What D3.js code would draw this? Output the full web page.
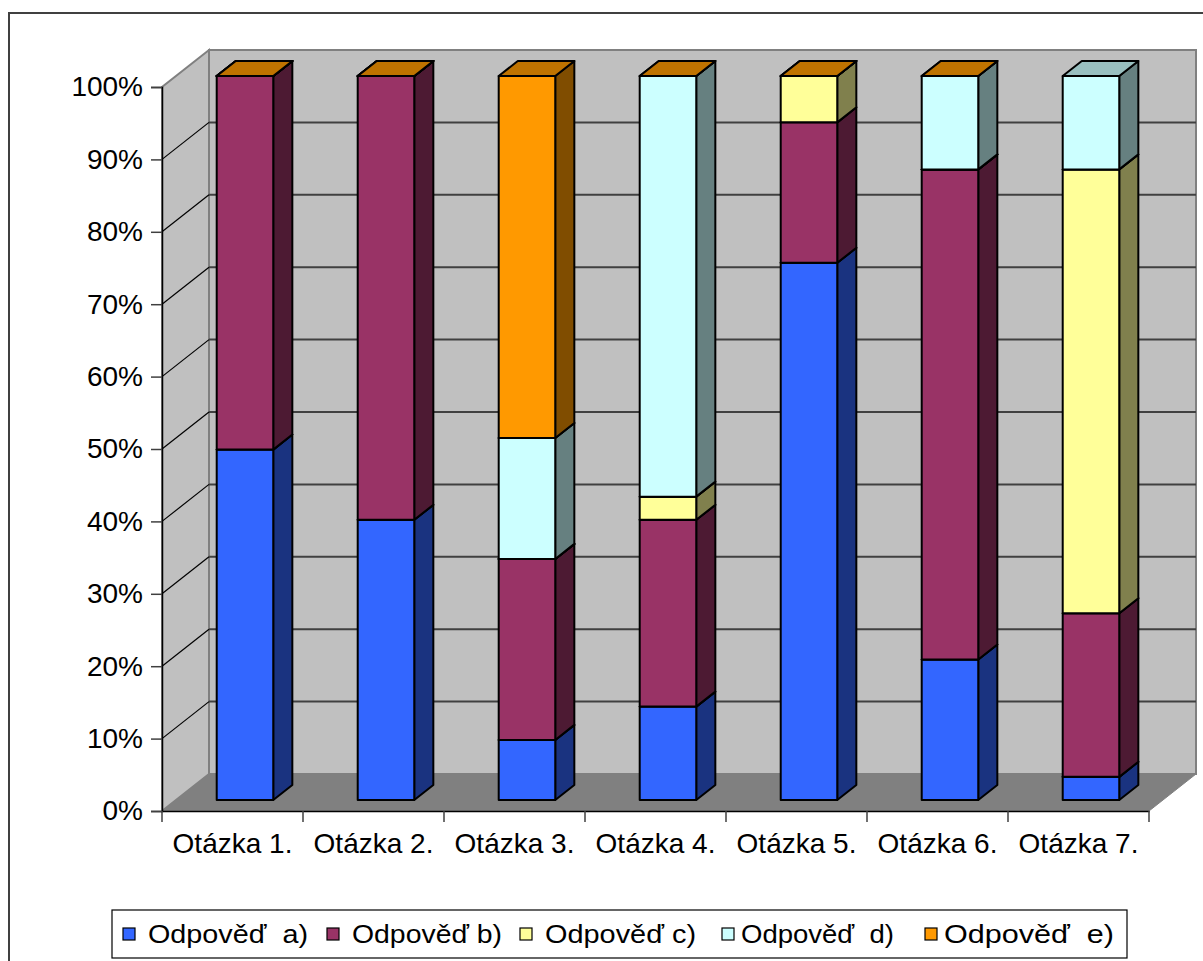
<!DOCTYPE html>
<html>
<head>
<meta charset="utf-8">
<script src="https://cdn.jsdelivr.net/npm/d3@7"></script>
<style>
  body { margin: 0; background: #fff; }
  text { font-family: "Liberation Sans", Arial, sans-serif; fill: #000; }
</style>
</head>
<body>
<div id="chart"></div>
<script>
// chart data
var categories = ["Otázka 1.", "Otázka 2.", "Otázka 3.", "Otázka 4.", "Otázka 5.", "Otázka 6.", "Otázka 7."];
var seriesNames = ["Odpověď  a)", "Odpověď b)", "Odpověď c)", "Odpověď  d)", "Odpověď  e)"];
var answerA = [48.4, 38.7, 8.3, 12.9, 74.2, 19.4, 3.2];
var answerB = [51.6, 61.3, 25.0, 25.8, 19.4, 67.7, 22.6];
var answerC = [0, 0, 0, 3.2, 6.4, 0, 61.3];
var answerD = [0, 0, 16.7, 58.1, 0, 12.9, 12.9];
var answerE = [0, 0, 50.0, 0, 0, 0, null];
var yTicks = [0, 10, 20, 30, 40, 50, 60, 70, 80, 90, 100];

var seriesValues = [answerA, answerB, answerC, answerD, answerE];
var keys = ["a", "b", "c", "d", "e"];
var frontColors = ["#3366FF", "#993366", "#FFFF99", "#CCFFFF", "#FF9900"];

var svgWidth = 1203;
var svgHeight = 961;

var svg = d3.select("#chart")
    .append("svg")
    .attr("width", svgWidth)
    .attr("height", svgHeight);

// outer chart frame
svg.append("rect")
    .attr("x", 9).attr("y", 13)
    .attr("width", 1260).attr("height", 1000)
    .attr("fill", "#fff")
    .attr("stroke", "#404040")
    .attr("stroke-width", 2);

// scales (front plane of the 3d box)
var xScale = d3.scaleBand()
    .domain(categories)
    .range([162, 1149])
    .padding(0);

var yScale = d3.scaleLinear()
    .domain([0, 100])
    .range([811, 87]);

// depth vector of the box
var depthX = 47;
var depthY = -37;

function proj(x, v, z) {
    return [x + z * depthX, yScale(v) + z * depthY];
}

function poly(points) {
    return "M" + points.map(p => p.join(",")).join("L") + "Z";
}

var x0 = xScale.range()[0];
var x1 = xScale.range()[1];

// walls and floor
var plot = svg.append("g");

plot.append("path")
    .attr("d", poly([proj(x0, 0, 0), proj(x0, 0, 1), proj(x1, 0, 1), proj(x1, 0, 0)]))
    .attr("fill", "#808080")
    .attr("stroke", "#808080");

plot.append("path")
    .attr("d", poly([proj(x0, 0, 0), proj(x0, 100, 0), proj(x0, 100, 1), proj(x0, 0, 1)]))
    .attr("fill", "#C0C0C0")
    .attr("stroke", "#808080")
    .attr("stroke-width", 2);

plot.append("path")
    .attr("d", poly([proj(x0, 0, 1), proj(x0, 100, 1), proj(x1, 100, 1), proj(x1, 0, 1)]))
    .attr("fill", "#C0C0C0")
    .attr("stroke", "#808080")
    .attr("stroke-width", 2);

// gridlines on back wall and left wall
var gridVals = yTicks.filter(v => v > 0 && v < 100);

plot.selectAll(".gridBack")
    .data(gridVals)
    .enter()
    .append("line")
    .attr("x1", d => proj(x0, d, 1)[0])
    .attr("y1", d => proj(x0, d, 1)[1])
    .attr("x2", d => proj(x1, d, 1)[0])
    .attr("y2", d => proj(x1, d, 1)[1])
    .attr("stroke", "#404040")
    .attr("stroke-width", 2);

plot.selectAll(".gridSide")
    .data(gridVals)
    .enter()
    .append("line")
    .attr("x1", d => proj(x0, d, 0)[0])
    .attr("y1", d => proj(x0, d, 0)[1])
    .attr("x2", d => proj(x0, d, 1)[0])
    .attr("y2", d => proj(x0, d, 1)[1])
    .attr("stroke", "#000")
    .attr("stroke-width", 1.2);

// stacked data
var table = categories.map(function(c, i) {
    var row = { cat: c };
    keys.forEach((k, j) => row[k] = seriesValues[j][i] == null ? 0 : seriesValues[j][i]);
    return row;
});

var stacked = d3.stack().keys(keys)(table);

var barStart = 0.289;
var barWidth = 0.401;
var z0 = 0.297;
var z1 = 0.703;

var bars = svg.append("g");

categories.forEach(function(c, i) {
    var bx0 = xScale(c) + xScale.bandwidth() * barStart;
    var bx1 = bx0 + xScale.bandwidth() * barWidth;
    var g = bars.append("g");

    stacked.forEach(function(layer, j) {
        if (seriesValues[j][i] == null) return;
        var lo = layer[i][0];
        var hi = layer[i][1];
        var col = d3.color(frontColors[j]);
        var side = d3.rgb(col.r * 0.5, col.g * 0.5, col.b * 0.5);
        var top = d3.rgb(col.r * 0.75, col.g * 0.75, col.b * 0.75);

        // right side face
        g.append("path")
            .attr("d", poly([proj(bx1, lo, z0), proj(bx1, lo, z1), proj(bx1, hi, z1), proj(bx1, hi, z0)]))
            .attr("fill", side)
            .attr("stroke", "#000")
            .attr("stroke-width", 2)
            .attr("stroke-linejoin", "round");

        // front face
        g.append("path")
            .attr("d", poly([proj(bx0, lo, z0), proj(bx1, lo, z0), proj(bx1, hi, z0), proj(bx0, hi, z0)]))
            .attr("fill", frontColors[j])
            .attr("stroke", "#000")
            .attr("stroke-width", 2)
            .attr("stroke-linejoin", "round");

        // top face
        g.append("path")
            .attr("d", poly([proj(bx0, hi, z0), proj(bx1, hi, z0), proj(bx1, hi, z1), proj(bx0, hi, z1)]))
            .attr("fill", top)
            .attr("stroke", "#000")
            .attr("stroke-width", 2)
            .attr("stroke-linejoin", "round");
    });
});

// y axis
var leftAxis = d3.axisLeft(yScale)
    .tickValues(yTicks)
    .tickSize(11)
    .tickPadding(8)
    .tickFormat(d => d + "%");

var yAxis = svg.append("g")
    .attr("transform", `translate(${x0}, 0)`)
    .call(leftAxis);

yAxis.select(".domain").attr("stroke", "#000").attr("stroke-width", 1.5);
yAxis.selectAll(".tick line").attr("stroke", "#404040").attr("stroke-width", 1.5);
yAxis.selectAll(".tick text")
    .attr("font-size", 28)
    .attr("font-family", "Liberation Sans, Arial, sans-serif")
    .attr("fill", "#000");

// x axis
var bottomAxis = d3.axisBottom(xScale)
    .tickSize(0)
    .tickPadding(22);

var xAxis = svg.append("g")
    .attr("transform", `translate(0, ${yScale(0)})`)
    .call(bottomAxis);

xAxis.select(".domain").attr("stroke", "#000").attr("stroke-width", 1.5);
xAxis.selectAll(".tick text")
    .attr("font-size", 28)
    .attr("font-family", "Liberation Sans, Arial, sans-serif")
    .attr("fill", "#000");

// category boundary ticks
var boundaries = categories.map(c => xScale(c)).concat([x1]);
xAxis.selectAll(".bound")
    .data(boundaries)
    .enter()
    .append("line")
    .attr("x1", d => d).attr("x2", d => d)
    .attr("y1", 0).attr("y2", 11)
    .attr("stroke", "#404040")
    .attr("stroke-width", 1.5);

// legend
var legendX = [123, 327, 520, 722, 925];
var legendTextLen = [160, 150, 151, 153, 170];

var legend = svg.append("g");

legend.append("rect")
    .attr("x", 112).attr("y", 910)
    .attr("width", 1015).attr("height", 48)
    .attr("fill", "#fff")
    .attr("stroke", "#000")
    .attr("stroke-width", 1.2);

var items = legend.selectAll(".item")
    .data(seriesNames)
    .enter()
    .append("g")
    .attr("transform", (d, i) => `translate(${legendX[i]}, 934)`);

items.append("rect")
    .attr("x", 0).attr("y", -6)
    .attr("width", 12).attr("height", 12)
    .attr("fill", (d, i) => frontColors[i])
    .attr("stroke", "#000")
    .attr("stroke-width", 1.2);

items.append("text")
    .attr("x", (d, i) => i > 2 ? 19 : 25)
    .attr("y", 9)
    .attr("font-size", 25)
    .style("white-space", "pre")
    .attr("textLength", (d, i) => legendTextLen[i])
    .attr("lengthAdjust", "spacingAndGlyphs")
    .text(d => d);
</script>
</body>
</html>
